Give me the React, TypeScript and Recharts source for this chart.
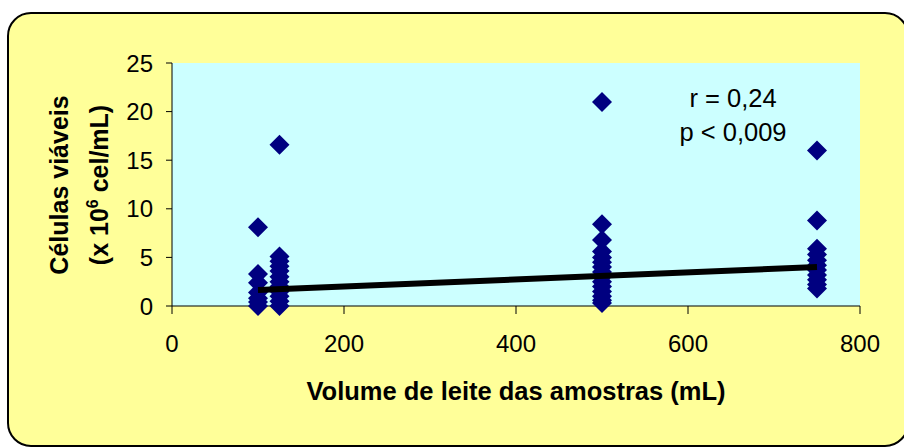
import * as React from "react";
import { CartesianGrid, Scatter, ScatterChart, XAxis, YAxis } from "recharts";

// sample volumes (mL) and the viable cell counts read at each volume (x 10^6 cel/mL)
const volumes = [100, 125, 500, 750];
const cells100 = [8.1, 3.3, 2.4, 1.4, 0.8, 0.4, 0];
const cells125 = [16.6, 5.1, 4.6, 4.1, 3.6, 3.0, 2.5, 2.0, 1.5, 1.0, 0.5, 0];
const cells500 = [21.0, 8.4, 6.8, 5.6, 5.0, 4.5, 4.0, 3.5, 3.0, 2.5, 2.0, 1.5, 1.0, 0.6, 0.3];
const cells750 = [16.0, 8.8, 5.9, 5.3, 4.7, 4.2, 3.7, 3.2, 2.7, 2.2, 1.8];

// regression line end points
const trendX = [100, 750];
const trendY = [1.65, 4.0];

const xTicks = [0, 200, 400, 600, 800];
const yTicks = [0, 5, 10, 15, 20, 25];

const points = [cells100, cells125, cells500, cells750].flatMap((list, i) =>
  list.map((y) => ({ x: volumes[i], y }))
);
const trend = trendX.map((x, i) => ({ x, y: trendY[i] }));

const FONT = "'Liberation Sans', Arial, sans-serif";

function Diamond(props: { cx?: number; cy?: number }) {
  const { cx, cy } = props;
  if (cx == null || cy == null) return null;
  const r = 10;
  return (
    <polygon
      points={`${cx},${cy - r} ${cx + r},${cy} ${cx},${cy + r} ${cx - r},${cy}`}
      fill="#000080"
    />
  );
}

export default function App() {
  return (
    <div style={{ position: "absolute", left: 0, top: 0, width: 904, height: 448, overflow: "hidden", background: "#fff", fontFamily: FONT }}>
      <div
        style={{
          position: "absolute",
          left: 7,
          top: 12,
          width: 902,
          height: 435,
          boxSizing: "border-box",
          border: "2px solid #000",
          borderRadius: 24,
          background: "#FFFF99",
        }}
      />
      <div style={{ position: "absolute", left: 0, top: 0 }}>
        <ScatterChart width={904} height={448} margin={{ top: 63, right: 44, bottom: 102, left: 112 }}>
          <CartesianGrid fill="#CCFFFF" horizontal={false} vertical={false} />
          <XAxis
            type="number"
            dataKey="x"
            domain={[0, 800]}
            ticks={xTicks}
            height={40}
            tickSize={8}
            tickMargin={21}
            axisLine={{ stroke: "#000" }}
            tickLine={{ stroke: "#000" }}
            tick={{ fill: "#000", fontSize: 24, fontFamily: FONT }}
          />
          <YAxis
            type="number"
            dataKey="y"
            domain={[0, 25]}
            ticks={yTicks}
            width={60}
            tickSize={6}
            tickMargin={13}
            axisLine={{ stroke: "#000" }}
            tickLine={{ stroke: "#000" }}
            tick={{ fill: "#000", fontSize: 24, fontFamily: FONT }}
          />
          <Scatter data={points} shape={<Diamond />} isAnimationActive={false} />
          <Scatter
            data={trend}
            line={{ stroke: "#000", strokeWidth: 6 }}
            lineType="joint"
            shape={() => <g />}
            isAnimationActive={false}
          />
        </ScatterChart>
      </div>
      <svg width={904} height={448} style={{ position: "absolute", left: 0, top: 0, pointerEvents: "none" }}>
        <text x={516} y={400} textAnchor="middle" fontSize={25.5} fontWeight="bold" fill="#000" fontFamily={FONT}>
          Volume de leite das amostras (mL)
        </text>
        <g transform="translate(0,185) rotate(-90)">
          <text x={0} y={68} textAnchor="middle" fontSize={25} fontWeight="bold" fill="#000" fontFamily={FONT}>
            Células viáveis
          </text>
          <text x={0} y={108} textAnchor="middle" fontSize={25} fontWeight="bold" fill="#000" fontFamily={FONT}>
            (x 10
            <tspan dy={-10} fontSize={16}>6</tspan>
            <tspan dy={10}> cel/mL)</tspan>
          </text>
        </g>
        <text x={733} y={107} textAnchor="middle" fontSize={25.5} fill="#000" fontFamily={FONT}>
          r = 0,24
        </text>
        <text x={733} y={141} textAnchor="middle" fontSize={25.5} fill="#000" fontFamily={FONT}>
          p &lt; 0,009
        </text>
      </svg>
    </div>
  );
}
